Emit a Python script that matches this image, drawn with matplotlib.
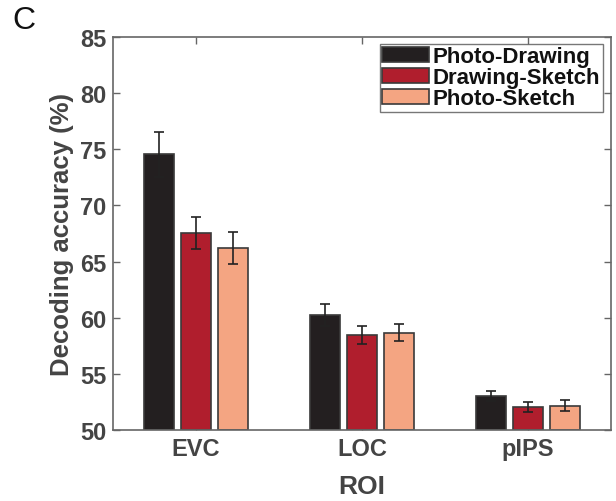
import numpy as np
import matplotlib
matplotlib.use("Agg")
import matplotlib.pyplot as plt

ROIS = ["EVC", "LOC", "pIPS"]
SERIES = ["Photo-Drawing", "Drawing-Sketch", "Photo-Sketch"]
ACC = [[74.55, 60.25, 53.05],   # Photo-Drawing
       [67.55, 58.5, 52.05],    # Drawing-Sketch
       [66.2, 58.65, 52.15]]    # Photo-Sketch
SEM = [[2.0, 0.95, 0.45],
       [1.45, 0.8, 0.45],
       [1.45, 0.75, 0.5]]
COLORS = ["#231f20", "#b01e2d", "#f4a582"]
GRAY = "#444444"

plt.rcParams.update({"font.family": ["Liberation Sans", "DejaVu Sans"], "font.weight": "bold"})

fig = plt.figure(figsize=(6.16, 5.02), dpi=100)
ax = fig.add_axes([113 / 616, 71 / 502, 498 / 616, 393 / 502])

x = np.arange(1, len(ROIS) + 1)
w, step = 0.179, 0.223
for k, (name, col) in enumerate(zip(SERIES, COLORS)):
    pos = x + (k - 1) * step
    ax.bar(pos, np.array(ACC[k]) - 50, w, bottom=50, color=col, edgecolor="#3a3a3a",
           linewidth=1.2, label=name, zorder=2)
    ax.errorbar(pos, ACC[k], yerr=SEM[k], fmt="none", ecolor="#222222",
                elinewidth=1.2, capsize=3.5, capthick=1.2, zorder=3)

ax.set_xlim(0.5, 3.5); ax.set_ylim(50, 85)
ax.set_xticks(x); ax.set_xticklabels(ROIS)
ax.set_yticks(range(50, 86, 5))
ax.tick_params(direction="in", top=True, right=True, length=5, width=1,
               colors="#666666", labelcolor=GRAY, labelsize=17, pad=5)
for t in ax.get_xticklabels() + ax.get_yticklabels():
    t.set_fontweight("bold")
for s in ax.spines.values():
    s.set_color("#666666"); s.set_linewidth(1.2)
ax.set_xlabel("ROI", fontsize=19, fontweight="bold", color=GRAY, labelpad=10)
ax.set_ylabel("Decoding accuracy (%)", fontsize=18.5, fontweight="bold", color=GRAY, labelpad=4)

# tight MATLAB-style legend
leg = ax.legend(loc="upper right", bbox_to_anchor=(0.983, 0.983),
                prop={"weight": "bold", "size": 16}, frameon=True, fancybox=False,
                edgecolor="#555555", handlelength=2.1, handleheight=0.62,
                handletextpad=0.15, labelspacing=0.0, borderpad=0.12, borderaxespad=0)
leg.get_frame().set_linewidth(1.0)
for t in leg.get_texts():
    t.set_color("#111111")

fig.text(12 / 616, 1 - 21 / 502, "C", fontsize=23, fontweight="normal", color="#111111",
         va="center", ha="left")

fig.savefig("out.png", dpi=100)
